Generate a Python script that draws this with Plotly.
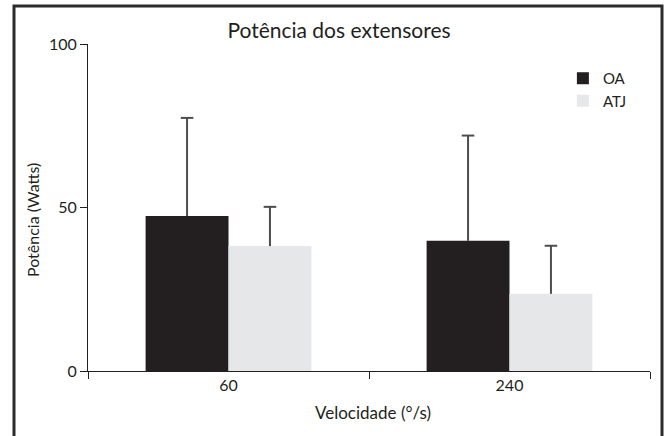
import plotly.graph_objects as go

categories = ["60", "240"]
oa_values = [47.4, 39.8]
oa_sd = [30.0, 32.2]
atj_values = [38.2, 23.6]
atj_sd = [12.0, 14.7]
y_ticks = [0, 50, 100]

dark = "#231f20"
light = "#e6e7e8"
err_color = "#4d4d4f"
font = "Lato"

fig = go.Figure()
for name, vals, sds, color in [("OA", oa_values, oa_sd, dark), ("ATJ", atj_values, atj_sd, light)]:
    fig.add_trace(go.Bar(
        x=categories, y=vals, name=name, offsetgroup=name,
        marker=dict(color=color, line=dict(width=0)),
        error_y=dict(type="data", array=sds, arrayminus=[0] * len(sds), symmetric=False,
                     color=err_color, thickness=2, width=0),
    ))
for name, vals, sds in [("OA", oa_values, oa_sd), ("ATJ", atj_values, atj_sd)]:
    fig.add_trace(go.Scatter(
        x=categories, y=[v + s for v, s in zip(vals, sds)], mode="markers",
        offsetgroup=name, showlegend=False, hoverinfo="skip",
        marker=dict(symbol="line-ew-open", size=9, color=err_color,
                    line=dict(color=err_color, width=2)),
    ))

fig.update_layout(
    width=665, height=436,
    margin=dict(l=88, r=15, t=44, b=65),
    paper_bgcolor="white", plot_bgcolor="white",
    barmode="group", bargap=0.41, bargroupgap=0,
    scattermode="group", scattergap=0.41,
    font=dict(family=font, size=16, color=dark),
    title=dict(text="Potência dos extensores", x=339/665, xref="container", xanchor="center",
               y=1 - 31/436, yref="container", yanchor="middle",
               font=dict(family=font, size=21, color=dark)),
    showlegend=True,
    legend=dict(x=0.845, y=0.945, xanchor="left", yanchor="top", bgcolor="rgba(0,0,0,0)",
                font=dict(family=font, size=15, color=dark), itemwidth=30),
    xaxis=dict(type="category", range=[-0.5, 1.5], showline=True, linecolor=dark, linewidth=1,
               ticks="outside", tickson="boundaries", ticklen=7, tickcolor=dark,
               showgrid=False, zeroline=False, tickfont=dict(size=16, color=dark)),
    yaxis=dict(range=[0, 100], tickvals=y_ticks, showline=True, linecolor=dark, linewidth=1,
               ticks="outside", ticklen=7, tickcolor=dark, showgrid=False, zeroline=False,
               tickfont=dict(size=16, color=dark)),
    annotations=[
        dict(text="Potência (Watts)", xref="paper", yref="paper", x=(33 - 88) / 562,
             y=(371 - 220) / 327, textangle=-90, showarrow=False, xanchor="center",
             yanchor="middle", font=dict(size=16, color=dark)),
        dict(text="Velocidade (°/s)", xref="paper", yref="paper", x=(373 - 88) / 562,
             y=(371 - 412) / 327, showarrow=False, xanchor="center", yanchor="middle",
             font=dict(size=17, color=dark)),
    ],
    shapes=[
        dict(type="rect", xref="paper", yref="paper",
             x0=(14 - 88) / 562, x1=(662 - 88) / 562,
             y0=(371 - 445) / 327, y1=(371 - 6) / 327,
             line=dict(color="#2b2b2b", width=3), fillcolor="rgba(0,0,0,0)", layer="below"),
    ],
)

fig.write_html("out.html", config={"displayModeBar": False},
               post_script="document.body.style.margin='0px';document.body.style.overflow='hidden';")
